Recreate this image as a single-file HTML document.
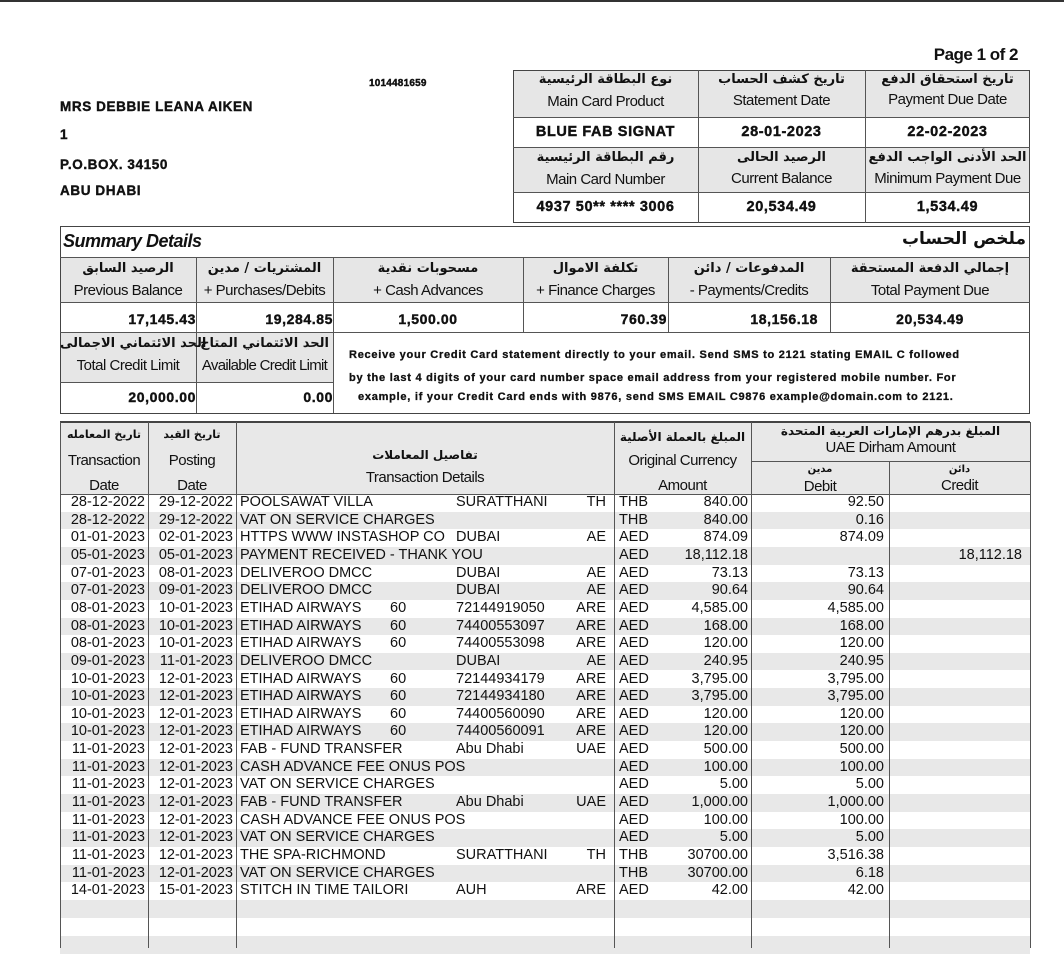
<!DOCTYPE html>
<html><head><meta charset="utf-8"><style>
*{margin:0;padding:0;box-sizing:border-box}
body{width:1064px;height:948px;background:#fff;position:relative;overflow:hidden;font-family:"Liberation Sans",Arial,sans-serif;color:#111}
.a{position:absolute;white-space:nowrap}
.b{font-weight:bold}
.w{font-weight:bold;letter-spacing:0.6px;-webkit-text-stroke:0.4px #111}
.n{letter-spacing:-0.5px}
.ar{font-family:"DejaVu Sans",sans-serif;font-size:13px;font-weight:bold}
.box{position:absolute;border:1px solid #444}
.hl{position:absolute;height:1px;background:#555}
.vl{position:absolute;width:1px;background:#555}
.g{position:absolute;background:#e6e6e6}
.c{text-align:center}
.r{text-align:right}
.row{position:absolute;left:60px;width:970px;height:17.65px;font-size:14.5px;line-height:17.65px}
.row span{position:absolute;white-space:nowrap}
.row .d1{right:885px}.row .d2{right:797px}.row .ds{left:180px}.row .ct{left:396px}.row .co{right:424px}.row .cu{left:559px}.row .am{right:282px}.row .db{right:146px}.row .cr{right:8px}
.gr{background:#e8e8e8}
</style></head><body>
<div class="a" style="left:0;top:0;width:1064px;height:2px;background:#333"></div>
<div class="a b n" style="right:46px;top:45px;font-size:17px">Page 1 of 2</div>
<div class="a w" style="left:369px;top:78px;font-size:10px;letter-spacing:0.2px">1014481659</div>
<div class="a w" style="left:60px;top:99px;font-size:13.5px">MRS DEBBIE LEANA AIKEN</div>
<div class="a w" style="left:60px;top:127px;font-size:13.5px">1</div>
<div class="a w" style="left:60px;top:157px;font-size:13.5px">P.O.BOX. 34150</div>
<div class="a w" style="left:60px;top:183px;font-size:13.5px">ABU DHABI</div>

<!-- top info box -->
<div class="g" style="left:513px;top:70px;width:517px;height:47px"></div>
<div class="g" style="left:513px;top:147px;width:517px;height:45px"></div>
<div class="box" style="left:513px;top:70px;width:517px;height:153px"></div>
<div class="hl" style="left:513px;top:117px;width:517px"></div>
<div class="hl" style="left:513px;top:147px;width:517px"></div>
<div class="hl" style="left:513px;top:192px;width:517px"></div>
<div class="vl" style="left:698px;top:70px;height:153px"></div>
<div class="vl" style="left:865px;top:70px;height:153px"></div>
<div class="a c ar" style="left:513px;top:72px;width:185px">نوع البطاقة الرئيسية</div>
<div class="a c ar" style="left:698px;top:72px;width:167px">تاريخ كشف الحساب</div>
<div class="a c ar" style="left:865px;top:72px;width:165px">تاريخ استحقاق الدفع</div>
<div class="a c n" style="left:513px;top:93px;width:185px;font-size:15px">Main Card Product</div>
<div class="a c n" style="left:698px;top:92px;width:167px;font-size:15px">Statement Date</div>
<div class="a c n" style="left:865px;top:91px;width:165px;font-size:15px">Payment Due Date</div>
<div class="a c w" style="left:513px;top:124px;width:185px;font-size:14.5px">BLUE FAB SIGNAT</div>
<div class="a c w" style="left:698px;top:124px;width:167px;font-size:14.5px">28-01-2023</div>
<div class="a c w" style="left:865px;top:124px;width:165px;font-size:14.5px">22-02-2023</div>
<div class="a c ar" style="left:513px;top:150px;width:185px">رقم البطاقة الرئيسية</div>
<div class="a c ar" style="left:698px;top:150px;width:167px">الرصيد الحالى</div>
<div class="a c ar" style="left:865px;top:150px;width:165px">الحد الأدنى الواجب الدفع</div>
<div class="a c n" style="left:513px;top:171px;width:185px;font-size:15px">Main Card Number</div>
<div class="a c n" style="left:698px;top:170px;width:167px;font-size:15px">Current Balance</div>
<div class="a c n" style="left:865px;top:170px;width:165px;font-size:15px">Minimum Payment Due</div>
<div class="a c w" style="left:513px;top:199px;width:185px;font-size:14.5px">4937 50** **** 3006</div>
<div class="a c w" style="left:698px;top:199px;width:167px;font-size:14.5px">20,534.49</div>
<div class="a c w" style="left:865px;top:199px;width:165px;font-size:14.5px">1,534.49</div>

<!-- summary -->
<div class="g" style="left:60px;top:257px;width:970px;height:45px"></div>
<div class="g" style="left:60px;top:332px;width:273px;height:50px"></div>
<div class="box" style="left:60px;top:226px;width:970px;height:188px"></div>
<div class="hl" style="left:60px;top:257px;width:970px"></div>
<div class="hl" style="left:60px;top:302px;width:970px"></div>
<div class="hl" style="left:60px;top:332px;width:970px"></div>
<div class="hl" style="left:60px;top:382px;width:273px"></div>
<div class="vl" style="left:196px;top:257px;height:156px"></div>
<div class="vl" style="left:333px;top:257px;height:156px"></div>
<div class="vl" style="left:523px;top:257px;height:75px"></div>
<div class="vl" style="left:668px;top:257px;height:75px"></div>
<div class="vl" style="left:830px;top:257px;height:75px"></div>
<div class="a b n" style="left:63px;top:231px;font-size:18px;font-style:italic">Summary Details</div>
<div class="a ar" style="right:38px;top:229px;font-size:17px">ملخص الحساب</div>
<div class="a c ar" style="left:60px;top:261px;width:136px">الرصيد السابق</div>
<div class="a c ar" style="left:196px;top:261px;width:137px">المشتريات / مدين</div>
<div class="a c ar" style="left:333px;top:261px;width:190px">مسحوبات نقدية</div>
<div class="a c ar" style="left:523px;top:261px;width:145px">تكلفة الاموال</div>
<div class="a c ar" style="left:668px;top:261px;width:162px">المدفوعات / دائن</div>
<div class="a c ar" style="left:830px;top:261px;width:200px">إجمالي الدفعة المستحقة</div>
<div class="a c n" style="left:60px;top:282px;width:136px;font-size:15px">Previous Balance</div>
<div class="a c n" style="left:196px;top:282px;width:137px;font-size:15px">+ Purchases/Debits</div>
<div class="a c n" style="left:333px;top:282px;width:190px;font-size:15px">+ Cash Advances</div>
<div class="a c n" style="left:523px;top:282px;width:145px;font-size:15px">+ Finance Charges</div>
<div class="a c n" style="left:668px;top:282px;width:162px;font-size:15px">- Payments/Credits</div>
<div class="a c n" style="left:830px;top:282px;width:200px;font-size:15px">Total Payment Due</div>
<div class="a r w" style="right:868px;top:311px;font-size:14px">17,145.43</div>
<div class="a r w" style="right:731px;top:311px;font-size:14px">19,284.85</div>
<div class="a c w" style="left:333px;top:311px;width:190px;font-size:14px">1,500.00</div>
<div class="a r w" style="right:397px;top:311px;font-size:14px">760.39</div>
<div class="a r w" style="right:246px;top:311px;font-size:14px">18,156.18</div>
<div class="a c w" style="left:830px;top:311px;width:200px;font-size:14px">20,534.49</div>
<div class="a c ar" style="left:60px;top:336px;width:136px">الحد الائتماني الاجمالى</div>
<div class="a c ar" style="left:196px;top:336px;width:137px">الحد الائتماني المتاح</div>
<div class="a c n" style="left:60px;top:357px;width:136px;font-size:15px">Total Credit Limit</div>
<div class="a c n" style="left:196px;top:357px;width:137px;font-size:15px;letter-spacing:-0.7px">Available Credit Limit</div>
<div class="a r w" style="right:868px;top:389px;font-size:14px">20,000.00</div>
<div class="a r w" style="right:731px;top:389px;font-size:14px">0.00</div>
<div class="a w" style="left:349px;top:349px;font-size:11px;letter-spacing:0.75px;-webkit-text-stroke:0.3px #111">Receive your Credit Card statement directly to your email. Send SMS to 2121 stating EMAIL C followed</div>
<div class="a w" style="left:349px;top:372px;font-size:11px;letter-spacing:0.75px;-webkit-text-stroke:0.3px #111">by the last 4 digits of your card number space email address from your registered mobile number. For</div>
<div class="a w" style="left:358px;top:391px;font-size:11px;letter-spacing:0.75px;-webkit-text-stroke:0.3px #111">example, if your Credit Card ends with 9876, send SMS EMAIL C9876 example@domain.com to 2121.</div>

<!-- transactions -->
<div class="g" style="left:60px;top:422px;width:970px;height:72px;background:#e8e8e8"></div>
<div class="row gr" style="top:511.65px"></div>
<div class="row gr" style="top:546.95px"></div>
<div class="row gr" style="top:582.25px"></div>
<div class="row gr" style="top:617.55px"></div>
<div class="row gr" style="top:652.85px"></div>
<div class="row gr" style="top:688.15px"></div>
<div class="row gr" style="top:723.45px"></div>
<div class="row gr" style="top:758.75px"></div>
<div class="row gr" style="top:794.05px"></div>
<div class="row gr" style="top:829.35px"></div>
<div class="row gr" style="top:864.65px"></div>
<div class="row gr" style="top:900px"></div>
<div class="row gr" style="top:936px"></div>

<div class="a" style="left:60px;top:421px;width:970px;height:2px;background:#444"></div>
<div class="vl" style="left:60px;top:422px;height:526px"></div>
<div class="vl" style="left:148px;top:422px;height:526px"></div>
<div class="vl" style="left:236px;top:422px;height:526px"></div>
<div class="vl" style="left:614px;top:422px;height:526px"></div>
<div class="vl" style="left:751px;top:422px;height:526px"></div>
<div class="vl" style="left:889px;top:461px;height:487px"></div>
<div class="vl" style="left:1030px;top:422px;height:526px"></div>
<div class="hl" style="left:751px;top:461px;width:279px"></div>
<div class="hl" style="left:60px;top:494px;width:970px"></div>

<div class="a c ar" style="left:60px;top:428px;width:88px;font-size:11px">تاريخ المعامله</div>
<div class="a c ar" style="left:148px;top:428px;width:88px;font-size:11px">تاريخ القيد</div>
<div class="a c ar" style="left:236px;top:448px;width:378px;font-size:12px">تفاصيل المعاملات</div>
<div class="a c ar" style="left:614px;top:430px;width:137px;font-size:12px">المبلغ بالعملة الأصلية</div>
<div class="a c ar" style="left:751px;top:424px;width:279px;font-size:12px">المبلغ بدرهم الإمارات العربية المتحدة</div>
<div class="a c n" style="left:60px;top:452px;width:88px;font-size:15px">Transaction</div>
<div class="a c n" style="left:148px;top:452px;width:88px;font-size:15px">Posting</div>
<div class="a c n" style="left:60px;top:477px;width:88px;font-size:15px">Date</div>
<div class="a c n" style="left:148px;top:477px;width:88px;font-size:15px">Date</div>
<div class="a c n" style="left:236px;top:469px;width:378px;font-size:15px">Transaction Details</div>
<div class="a c n" style="left:614px;top:452px;width:137px;font-size:15px">Original Currency</div>
<div class="a c n" style="left:614px;top:477px;width:137px;font-size:15px">Amount</div>
<div class="a c n" style="left:751px;top:439px;width:279px;font-size:15px">UAE Dirham Amount</div>
<div class="a c ar" style="left:751px;top:464px;width:138px;font-size:10px">مدين</div>
<div class="a c ar" style="left:889px;top:464px;width:141px;font-size:10px">دائن</div>
<div class="a c n" style="left:751px;top:478px;width:138px;font-size:15px">Debit</div>
<div class="a c n" style="left:889px;top:477px;width:141px;font-size:15px">Credit</div>

<div class="row" style="top:494px"><span class="d1">28-12-2022</span><span class="d2">29-12-2022</span><span class="ds">POOLSAWAT VILLA</span><span class="ct">SURATTHANI</span><span class="co">TH</span><span class="cu">THB</span><span class="am">840.00</span><span class="db">92.50</span></div>
<div class="row" style="top:511.65px"><span class="d1">28-12-2022</span><span class="d2">29-12-2022</span><span class="ds">VAT ON SERVICE CHARGES</span><span class="cu">THB</span><span class="am">840.00</span><span class="db">0.16</span></div>
<div class="row" style="top:529.3px"><span class="d1">01-01-2023</span><span class="d2">02-01-2023</span><span class="ds">HTTPS WWW INSTASHOP CO</span><span class="ct">DUBAI</span><span class="co">AE</span><span class="cu">AED</span><span class="am">874.09</span><span class="db">874.09</span></div>
<div class="row" style="top:546.95px"><span class="d1">05-01-2023</span><span class="d2">05-01-2023</span><span class="ds">PAYMENT RECEIVED - THANK YOU</span><span class="cu">AED</span><span class="am">18,112.18</span><span class="cr">18,112.18</span></div>
<div class="row" style="top:564.6px"><span class="d1">07-01-2023</span><span class="d2">08-01-2023</span><span class="ds">DELIVEROO DMCC</span><span class="ct">DUBAI</span><span class="co">AE</span><span class="cu">AED</span><span class="am">73.13</span><span class="db">73.13</span></div>
<div class="row" style="top:582.25px"><span class="d1">07-01-2023</span><span class="d2">09-01-2023</span><span class="ds">DELIVEROO DMCC</span><span class="ct">DUBAI</span><span class="co">AE</span><span class="cu">AED</span><span class="am">90.64</span><span class="db">90.64</span></div>
<div class="row" style="top:599.9px"><span class="d1">08-01-2023</span><span class="d2">10-01-2023</span><span class="ds">ETIHAD AIRWAYS</span><span class="ds" style="left:330px">60</span><span class="ct">72144919050</span><span class="co">ARE</span><span class="cu">AED</span><span class="am">4,585.00</span><span class="db">4,585.00</span></div>
<div class="row" style="top:617.55px"><span class="d1">08-01-2023</span><span class="d2">10-01-2023</span><span class="ds">ETIHAD AIRWAYS</span><span class="ds" style="left:330px">60</span><span class="ct">74400553097</span><span class="co">ARE</span><span class="cu">AED</span><span class="am">168.00</span><span class="db">168.00</span></div>
<div class="row" style="top:635.2px"><span class="d1">08-01-2023</span><span class="d2">10-01-2023</span><span class="ds">ETIHAD AIRWAYS</span><span class="ds" style="left:330px">60</span><span class="ct">74400553098</span><span class="co">ARE</span><span class="cu">AED</span><span class="am">120.00</span><span class="db">120.00</span></div>
<div class="row" style="top:652.85px"><span class="d1">09-01-2023</span><span class="d2">11-01-2023</span><span class="ds">DELIVEROO DMCC</span><span class="ct">DUBAI</span><span class="co">AE</span><span class="cu">AED</span><span class="am">240.95</span><span class="db">240.95</span></div>
<div class="row" style="top:670.5px"><span class="d1">10-01-2023</span><span class="d2">12-01-2023</span><span class="ds">ETIHAD AIRWAYS</span><span class="ds" style="left:330px">60</span><span class="ct">72144934179</span><span class="co">ARE</span><span class="cu">AED</span><span class="am">3,795.00</span><span class="db">3,795.00</span></div>
<div class="row" style="top:688.15px"><span class="d1">10-01-2023</span><span class="d2">12-01-2023</span><span class="ds">ETIHAD AIRWAYS</span><span class="ds" style="left:330px">60</span><span class="ct">72144934180</span><span class="co">ARE</span><span class="cu">AED</span><span class="am">3,795.00</span><span class="db">3,795.00</span></div>
<div class="row" style="top:705.8px"><span class="d1">10-01-2023</span><span class="d2">12-01-2023</span><span class="ds">ETIHAD AIRWAYS</span><span class="ds" style="left:330px">60</span><span class="ct">74400560090</span><span class="co">ARE</span><span class="cu">AED</span><span class="am">120.00</span><span class="db">120.00</span></div>
<div class="row" style="top:723.45px"><span class="d1">10-01-2023</span><span class="d2">12-01-2023</span><span class="ds">ETIHAD AIRWAYS</span><span class="ds" style="left:330px">60</span><span class="ct">74400560091</span><span class="co">ARE</span><span class="cu">AED</span><span class="am">120.00</span><span class="db">120.00</span></div>
<div class="row" style="top:741.1px"><span class="d1">11-01-2023</span><span class="d2">12-01-2023</span><span class="ds">FAB - FUND TRANSFER</span><span class="ct">Abu Dhabi</span><span class="co">UAE</span><span class="cu">AED</span><span class="am">500.00</span><span class="db">500.00</span></div>
<div class="row" style="top:758.75px"><span class="d1">11-01-2023</span><span class="d2">12-01-2023</span><span class="ds">CASH ADVANCE FEE ONUS POS</span><span class="cu">AED</span><span class="am">100.00</span><span class="db">100.00</span></div>
<div class="row" style="top:776.4px"><span class="d1">11-01-2023</span><span class="d2">12-01-2023</span><span class="ds">VAT ON SERVICE CHARGES</span><span class="cu">AED</span><span class="am">5.00</span><span class="db">5.00</span></div>
<div class="row" style="top:794.05px"><span class="d1">11-01-2023</span><span class="d2">12-01-2023</span><span class="ds">FAB - FUND TRANSFER</span><span class="ct">Abu Dhabi</span><span class="co">UAE</span><span class="cu">AED</span><span class="am">1,000.00</span><span class="db">1,000.00</span></div>
<div class="row" style="top:811.7px"><span class="d1">11-01-2023</span><span class="d2">12-01-2023</span><span class="ds">CASH ADVANCE FEE ONUS POS</span><span class="cu">AED</span><span class="am">100.00</span><span class="db">100.00</span></div>
<div class="row" style="top:829.35px"><span class="d1">11-01-2023</span><span class="d2">12-01-2023</span><span class="ds">VAT ON SERVICE CHARGES</span><span class="cu">AED</span><span class="am">5.00</span><span class="db">5.00</span></div>
<div class="row" style="top:847px"><span class="d1">11-01-2023</span><span class="d2">12-01-2023</span><span class="ds">THE SPA-RICHMOND</span><span class="ct">SURATTHANI</span><span class="co">TH</span><span class="cu">THB</span><span class="am">30700.00</span><span class="db">3,516.38</span></div>
<div class="row" style="top:864.65px"><span class="d1">11-01-2023</span><span class="d2">12-01-2023</span><span class="ds">VAT ON SERVICE CHARGES</span><span class="cu">THB</span><span class="am">30700.00</span><span class="db">6.18</span></div>
<div class="row" style="top:882.3px"><span class="d1">14-01-2023</span><span class="d2">15-01-2023</span><span class="ds">STITCH IN TIME TAILORI</span><span class="ct">AUH</span><span class="co">ARE</span><span class="cu">AED</span><span class="am">42.00</span><span class="db">42.00</span></div>
</body></html>
